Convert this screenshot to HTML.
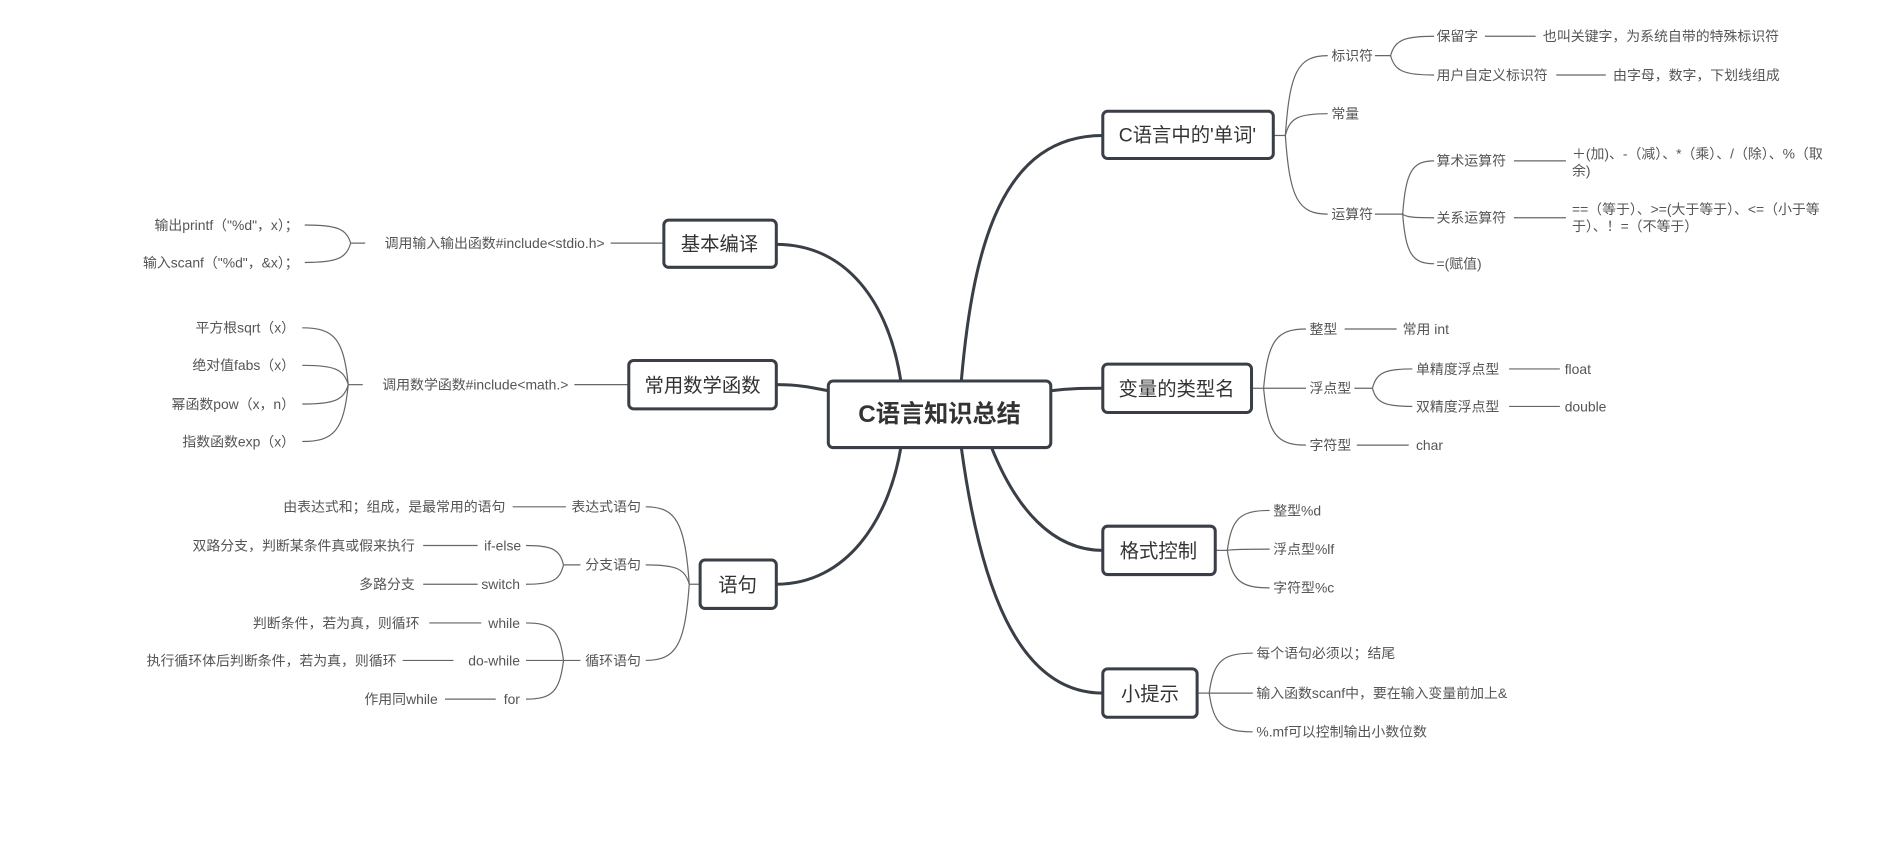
<!DOCTYPE html>
<html><head><meta charset="utf-8">
<style>
html,body{margin:0;padding:0;background:#fff;width:1896px;height:854px;overflow:hidden}
#wrap{width:1568px;height:706px;transform:scale(1.2092,1.2096);transform-origin:0 0}
svg{font-family:"Liberation Sans","Noto Sans CJK SC",sans-serif}
.t{font-size:11.5px;fill:#555}
.m{font-size:16px;fill:#333}
.box{fill:#fff;stroke:#3a3f47;stroke-width:2.5}
.th{fill:none;stroke:#3a3f47;stroke-width:2.5}
.tn{fill:none;stroke:#666;stroke-width:1}
</style></head><body><div id="wrap">
<svg id="s" width="1568" height="706" viewBox="0 0 1568 706">
<g id="lines"></g>
<path class="th" d="M795,315 C805,200 830,112 912,112"/>
<path class="th" d="M745,315 C735,250 700,202 642,202"/>
<path class="th" d="M685,323 C670,320 660,318 642,318"/>
<path class="th" d="M745,370 C735,430 700,483 642,483"/>
<path class="th" d="M869,323 C885,321 895,321 912,321"/>
<path class="th" d="M820,370 C840,420 870,455 912,455"/>
<path class="th" d="M795,370 C810,480 840,573 912,573"/>
<rect class="box" x="685" y="315" width="184" height="55" rx="4"/>
<text x="777" y="349" text-anchor="middle" style="font-size:20px;font-weight:bold;fill:#333">C语言知识总结</text>
<rect class="box" x="912" y="92" width="141" height="39" rx="4"/><text class="m" x="982" y="117" text-anchor="middle">C语言中的'单词'</text>
<rect class="box" x="912" y="301" width="123" height="40" rx="4"/><text class="m" x="973" y="327" text-anchor="middle">变量的类型名</text>
<rect class="box" x="912" y="435" width="93" height="40" rx="4"/><text class="m" x="958" y="461" text-anchor="middle">格式控制</text>
<rect class="box" x="912" y="553" width="78" height="40" rx="4"/><text class="m" x="951" y="579" text-anchor="middle">小提示</text>
<rect class="box" x="549" y="182" width="93" height="39" rx="4"/><text class="m" x="595" y="207" text-anchor="middle">基本编译</text>
<rect class="box" x="520" y="298" width="122" height="40" rx="4"/><text class="m" x="581" y="324" text-anchor="middle">常用数学函数</text>
<rect class="box" x="579" y="463" width="63" height="40" rx="4"/><text class="m" x="610" y="489" text-anchor="middle">语句</text>
<g id="texts"></g>
</svg></div>
<script>
var L=document.getElementById('lines'),T=document.getElementById('texts'),NS='http://www.w3.org/2000/svg';
function p(d){var e=document.createElementNS(NS,'path');e.setAttribute('class','tn');e.setAttribute('d',d);L.appendChild(e);}
function c(x1,y1,x2,y2){var dx=x2-x1,dy=y2-y1;p('M'+x1+','+y1+' C'+(x1+dx*0.1)+','+(y1+dy*0.8)+' '+(x1+dx*0.3)+','+y2+' '+x2+','+y2);}
function h(x1,x2,y){p('M'+x1+','+y+' L'+x2+','+y);}
function t(x,y,s,end){var e=document.createElementNS(NS,'text');e.setAttribute('class','t');e.setAttribute('x',x);e.setAttribute('y',y+4);if(end)e.setAttribute('text-anchor','end');e.textContent=s;T.appendChild(e);}
h(1053,1063,112);
c(1063,112,1098,46);c(1063,112,1098,94);c(1063,112,1098,177);
t(1101,46,'标识符');t(1101,94,'常量');t(1101,177,'运算符');
h(1137,1150,46);c(1150,46,1186,30);c(1150,46,1186,62);
t(1188,30,'保留字');t(1188,62,'用户自定义标识符');
h(1228,1270,30);t(1276,30,'也叫关键字，为系统自带的特殊标识符');
h(1287,1328,62);t(1334,62,'由字母，数字，下划线组成');
h(1137,1160,177);c(1160,177,1186,133);c(1160,177,1186,180);c(1160,177,1186,218);
t(1188,133,'算术运算符');t(1188,180,'关系运算符');t(1188,218,'=(赋值)');
h(1252,1295,133);t(1300,127,'＋(加)、-（减）、*（乘）、/（除）、%（取');t(1300,141,'余)');
h(1252,1295,180);t(1300,173,'==（等于）、>=(大于等于）、<=（小于等');t(1300,187,'于）、！=（不等于）');
h(1035,1045,321);c(1045,321,1080,272);c(1045,321,1080,321);c(1045,321,1080,368);
t(1083,272,'整型');t(1083,321,'浮点型');t(1083,368,'字符型');
h(1112,1155,272);t(1160,272,'常用 int');
h(1120,1135,321);c(1135,321,1168,305);c(1135,321,1168,336);
t(1171,305,'单精度浮点型');t(1171,336,'双精度浮点型');
h(1248,1290,305);t(1294,305,'float');h(1248,1290,336);t(1294,336,'double');
h(1122,1165,368);t(1171,368,'char');
h(1005,1015,455);c(1015,455,1050,422);c(1015,455,1050,454);c(1015,455,1050,486);
t(1053,422,'整型%d');t(1053,454,'浮点型%lf');t(1053,486,'字符型%c');
h(990,1000,573);c(1000,573,1036,540);c(1000,573,1036,573);c(1000,573,1036,605);
t(1039,540,'每个语句必须以；结尾');t(1039,573,'输入函数scanf中，要在输入变量前加上&');t(1039,605,'%.mf可以控制输出小数位数');
h(505,549,201);t(500,201,'调用输入输出函数#include<stdio.h>',1);
h(290,302,201);c(290,201,252,186);c(290,201,252,217);
t(247,186,'输出printf（"%d"，x）；',1);t(247,217,'输入scanf（"%d"，&x）；',1);
h(475,520,318);t(470,318,'调用数学函数#include<math.>',1);
h(288,300,318);c(288,318,250,271);c(288,318,250,302);c(288,318,250,334);c(288,318,250,365);
t(244,271,'平方根sqrt（x）',1);t(244,302,'绝对值fabs（x）',1);t(244,334,'幂函数pow（x，n）',1);t(244,365,'指数函数exp（x）',1);
h(570,579,483);c(570,483,534,419);c(570,483,534,467);c(570,483,534,546);
t(530,419,'表达式语句',1);t(530,467,'分支语句',1);t(530,546,'循环语句',1);
h(424,468,419);t(418,419,'由表达式和；组成，是最常用的语句',1);
h(466,480,467);c(466,467,435,451);c(466,467,435,483);
t(431,451,'if-else',1);t(430,483,'switch',1);
h(350,395,451);t(343,451,'双路分支，判断某条件真或假来执行',1);
h(350,395,483);t(343,483,'多路分支',1);
h(466,480,546);c(466,546,435,515);c(466,546,435,546);c(466,546,435,578);
t(430,515,'while',1);t(430,546,'do-while',1);t(430,578,'for',1);
h(355,398,515);t(347,515,'判断条件，若为真，则循环',1);
h(333,375,546);t(328,546,'执行循环体后判断条件，若为真，则循环',1);
h(368,410,578);t(362,578,'作用同while',1);
</script>
</body></html>
